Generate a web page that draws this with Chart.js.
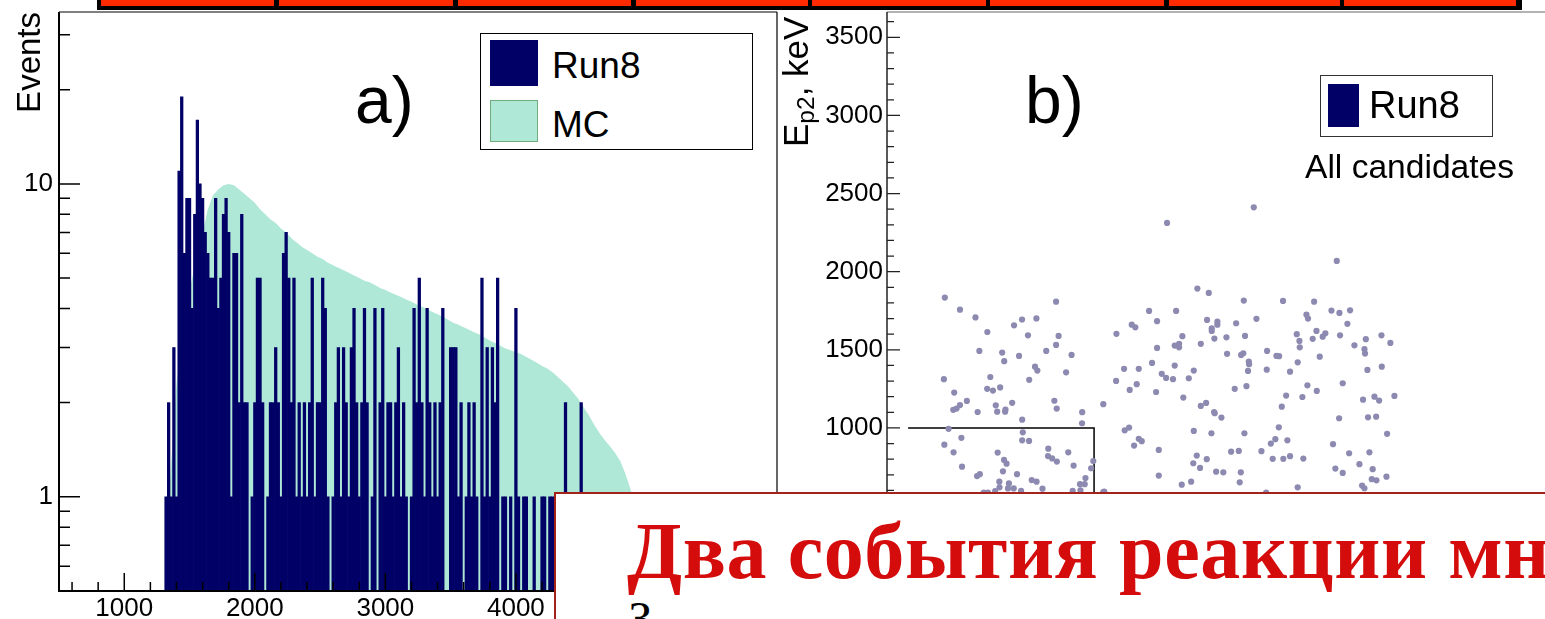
<!DOCTYPE html>
<html>
<head>
<meta charset="utf-8">
<script src="https://cdn.jsdelivr.net/npm/chart.js@4.4.1/dist/chart.umd.min.js"></script>
<style>
html,body{margin:0;padding:0;background:#fff;overflow:hidden;}
body{width:1545px;height:619px;position:relative;}
canvas{position:absolute;top:0;}
#cA{left:0;}
#cB{left:778px;}
.t{position:absolute;white-space:nowrap;line-height:1;font-family:"Liberation Sans",Arial,sans-serif;color:#000;}
.bx{position:absolute;box-sizing:border-box;}
</style>
</head>
<body>
<canvas id="cA" width="778" height="619"></canvas>
<canvas id="cB" width="800" height="619"></canvas>

<!-- panel a legend and label -->
<div class="bx" style="left:480px;top:33px;width:273px;height:117px;border:1.5px solid #000;background:#fff;"></div>
<div class="bx" style="left:490px;top:40px;width:48px;height:46px;background:#000066;"></div>
<div class="t" style="left:552px;top:47px;font-size:37px;">Run8</div>
<div class="bx" style="left:490px;top:100px;width:48px;height:42px;background:#afe8d6;border:1.5px solid #6fae7c;"></div>
<div class="t" style="left:552px;top:106px;font-size:37px;">MC</div>
<div class="t" style="left:355px;top:67px;font-size:66px;">a)</div>

<!-- panel b labels -->
<div class="t" style="left:778px;top:147px;font-size:35px;transform-origin:0 0;transform:rotate(-90deg);">E<span style="font-size:0.7em;position:relative;top:0.25em;">p2</span>, keV</div>
<div class="t" style="left:1025px;top:67px;font-size:66px;">b)</div>
<div class="bx" style="left:1320px;top:75px;width:173px;height:62px;border:1.5px solid #333;background:#fff;"></div>
<div class="bx" style="left:1328px;top:84px;width:31px;height:43px;background:#000066;"></div>
<div class="t" style="left:1369px;top:86px;font-size:38px;">Run8</div>
<div class="t" style="left:1305px;top:150px;font-size:33.6px;">All candidates</div>

<!-- top bar -->
<div class="bx" style="left:97px;top:0;width:1425px;height:9.5px;background:#000;"></div>
<div class="bx" style="left:101px;top:0;width:173px;height:5.5px;background:#ff2a00;"></div>
<div class="bx" style="left:278.5px;top:0;width:174.5px;height:5.5px;background:#ff2a00;"></div>
<div class="bx" style="left:457.5px;top:0;width:173.5px;height:5.5px;background:#ff2a00;"></div>
<div class="bx" style="left:635.5px;top:0;width:172.5px;height:5.5px;background:#ff2a00;"></div>
<div class="bx" style="left:812px;top:0;width:174px;height:5.5px;background:#ff2a00;"></div>
<div class="bx" style="left:990px;top:0;width:174px;height:5.5px;background:#ff2a00;"></div>
<div class="bx" style="left:1168.5px;top:0;width:171.5px;height:5.5px;background:#ff2a00;"></div>
<div class="bx" style="left:1344px;top:0;width:172px;height:5.5px;background:#ff2a00;"></div>

<!-- overlapping slide text box -->
<div class="bx" style="left:554px;top:492px;width:1100px;height:200px;border:2.5px solid #a3221a;background:#fff;"></div>
<div class="t" style="left:627px;top:511px;font-family:'Liberation Serif',serif;font-weight:bold;font-size:80px;letter-spacing:0.6px;color:#d40c0c;">Два события реакции мн</div>
<div class="t" style="left:628px;top:595px;font-family:'Liberation Serif',serif;font-size:48px;">З</div>

<script>
// ---------------- data ----------------
// Panel a: Run8 histogram, 20 keV bins starting at 1310 keV
const run8BinStart = 1310;
const run8BinWidth = 20;
const run8Counts = [
  1,2,1,3,1,11,19,6,9,9,
  4,8,16,10,9,7,6,5,5,9,
  4,5,8,9,7,1,6,6,2,8,
  2,2,0,1,2,5,5,2,0,1,
  2,2,3,2,1,6,7,5,2,5,
  1,2,1,2,1,2,5,1,2,2,
  5,4,1,0,1,2,3,1,3,2,
  1,3,4,2,1,2,4,2,0,1,
  4,0,2,4,1,2,2,1,2,3,
  1,2,1,0,1,4,2,5,2,1,
  4,2,1,2,1,2,4,0,0,3,
  3,3,1,2,0,1,2,1,2,1,
  0,5,1,3,1,3,2,5,0,1,
  1,0,1,0,4,1,0,1,1,0,
  0,1,0,0,1,1,0,1,1,0,
  1,0,1,2,0,1,0,1,0,2,0
];
// Panel a: MC expectation, 40 keV bins starting at 1300 keV
const mcBinStart = 1300;
const mcBinWidth = 40;
const mcValues = [
  0.7,1.3,2.3,3.2,4.1,5.0,5.9,7.0,8.3,9.2,
  9.6,9.9,10.0,9.9,9.6,9.3,9.0,8.7,8.3,8.0,
  7.7,7.5,7.2,7.0,6.7,6.5,6.3,6.15,6.0,5.85,
  5.75,5.6,5.5,5.4,5.3,5.2,5.1,5.0,4.9,4.85,
  4.75,4.65,4.58,4.5,4.42,4.35,4.27,4.2,4.12,4.05,
  3.98,3.9,3.83,3.76,3.68,3.6,3.55,3.48,3.42,3.36,
  3.3,3.23,3.16,3.1,3.04,2.98,2.94,2.9,2.86,2.8,
  2.74,2.68,2.62,2.57,2.5,2.42,2.33,2.25,2.15,2.05,
  1.93,1.82,1.7,1.6,1.52,1.45,1.38,1.3,1.18,1.05,
  0.9,0.75,0.6,0.45
];
const xTickLabelsA = [1000, 2000, 3000, 4000, 5000];
const yTickLabelsA = [1, 10];

// Panel b: Run8 candidates, E_p1 vs E_p2 (keV)
const ep1Run8 = [
  2347,1792,2878,1986,2059,2283,2534,2733,1677,1850,2844,2895,2963,2684,2694,2364,1728,2048,2114,2114,
  2234,2946,1566,1589,2078,2078,2748,2805,2788,2622,1468,1890,2172,2291,2899,3164,2095,2639,2724,3064,
  3221,2008,1841,1869,1869,1728,2641,2991,3055,3059,2432,2176,2266,2280,2492,2509,2769,2315,2317,2628,
  1696,1841,3166,1517,1611,1963,2310,2430,2579,3074,1758,1786,1830,1931,1466,1598,1553,1722,2225,2300,
  2690,2916,2750,2554,1896,2658,3046,3119,3149,3247,1384,2008,2042,2526,2093,2097,2140,2893,3078,3130,
  2507,1521,1549,1963,2076,2287,3200,1611,1630,2485,2456,2562,1581,2854,1739,2202,2251,2396,2957,3087,
  1982,2046,2468,2536,2579,2664,1960,2003,3023,2869,3108,2916,2106,2152,2264,1739,3196,3102,3132,2257,
  1946,1886,3040,3055,2628,1384,2426,370,467,566,1082,864,956,813,642,902,1098,1082,591,737,
  750,845,1019,1181,947,962,1146,364,661,910,430,641,678,724,511,467,424,445,580,696,
  705,758,756,801,1071,1086,1249,1248,865,394,869,476,865,909,367,426,708,1032,1160,749,
  765,1030,1057,1087,480,1194,1320,1306,742,832,576,594,926,957,1270,719,780,1235,1265,720,
  774,811,995,692,646,619,858,1188,1238,1390
];
const ep2Run8 = [
  2412,2312,2069,1892,1864,1815,1813,1808,1749,1749,1751,1736,1753,1725,1700,1698,1683,1691,1680,1661,
  1670,1666,1661,1644,1638,1621,1621,1606,1584,1600,1602,1587,1580,1589,1593,1593,1572,1557,1570,1568,
  1544,1538,1527,1538,1516,1512,1516,1529,1504,1476,1493,1474,1467,1478,1461,1459,1456,1424,1408,1420,
  1416,1399,1392,1378,1378,1367,1365,1373,1360,1371,1346,1320,1312,1318,1301,1280,1243,1230,1250,1267,
  1273,1286,1237,1207,1194,1198,1181,1200,1175,1205,1152,1141,1160,1136,1102,1094,1066,1062,1068,1072,
  1004,985,1002,981,966,966,962,930,915,928,900,921,887,896,859,848,853,851,838,844,
  823,800,802,802,819,804,774,744,768,740,736,712,720,716,716,695,688,672,665,652,
  656,637,631,614,620,590,586,1834,1757,1707,1808,1694,1701,1657,1614,1593,1589,1531,1493,1482,
  1427,1461,1493,1467,1392,1367,1356,1312,1326,1308,1226,1250,1239,1259,1173,1146,1116,1124,1102,1145,
  1104,1118,1104,1161,1174,1124,1101,1030,1053,994,972,937,921,917,893,844,842,867,844,795,
  771,820,805,785,752,759,788,742,722,704,692,704,666,656,679,656,645,640,640,620,
  613,613,611,596,586,586,597,597,601,592
];
const xTickLabelsB = [0, 1000, 2000, 3000, 4000];
const yTickLabelsB = [1000, 1500, 2000, 2500, 3000, 3500];
// selection box drawn on panel b
const boxEp1 = [135, 1325, 1325];
const boxEp2 = [1000, 1000, 0];

// ---------------- helpers ----------------
Chart.defaults.font.family = "'Liberation Sans', Arial, sans-serif";
Chart.defaults.color = '#000';

function range(a, b, s) { const r = []; for (let v = a; v <= b + 1e-9; v += s) r.push(+v.toFixed(6)); return r; }
function noPadY(s, w) { s.width = w; s.paddingTop = 0; s.paddingBottom = 0; }
function noPadX(s, h) { s.height = h; s.paddingLeft = 0; s.paddingRight = 0; }

// ROOT-like inward ticks and frame
const rootAxes = {
  id: 'rootAxes',
  afterDatasetsDraw(chart, args, o) {
    const {ctx, chartArea: a} = chart;
    const xs = chart.scales.x, ys = chart.scales.y;
    ctx.save();
    ctx.strokeStyle = o.tickColor;
    ctx.lineWidth = o.tickWidth;
    ctx.beginPath();
    (o.yTicks || []).forEach(t => { const p = ys.getPixelForValue(t.v); ctx.moveTo(a.left, p); ctx.lineTo(a.left + t.len, p); });
    (o.xTicks || []).forEach(t => { const p = xs.getPixelForValue(t.v); ctx.moveTo(p, a.bottom); ctx.lineTo(p, a.bottom - t.len); });
    ctx.stroke();
    (o.frame || []).forEach(f => {
      ctx.beginPath();
      ctx.strokeStyle = f.color; ctx.lineWidth = f.width;
      if (f.side === 'left') { ctx.moveTo(a.left, a.top); ctx.lineTo(a.left, a.bottom); }
      if (f.side === 'right') { ctx.moveTo(a.right, a.top); ctx.lineTo(a.right, a.bottom); }
      if (f.side === 'top') { ctx.moveTo(a.left, a.top); ctx.lineTo(a.right, a.top); }
      if (f.side === 'bottom') { ctx.moveTo(a.left - 1, a.bottom); ctx.lineTo(a.right, a.bottom); }
      ctx.stroke();
    });
    ctx.restore();
  }
};

// ---------------- panel a ----------------
const mcPoints = mcValues.map((v, i) => ({x: mcBinStart + (i + 0.5) * mcBinWidth, y: v}));
const run8Points = run8Counts.map((c, i) => ({x: run8BinStart + (i + 0.5) * run8BinWidth, y: c > 0 ? c : null}));

const yMinorA = [0.6,0.7,0.8,0.9,2,3,4,5,6,7,8,9,20,30];
const xMinorA = range(600, 5800, 200).filter(v => v % 1000 !== 0);

new Chart(document.getElementById('cA'), {
  type: 'bar',
  data: {
    datasets: [
      {type: 'line', label: 'MC', data: mcPoints, fill: 'start', tension: 0,
       backgroundColor: '#afe8d6', borderWidth: 0, borderColor: 'rgba(0,0,0,0)', pointRadius: 0, order: 2},
      {type: 'bar', label: 'Run8', data: run8Points, backgroundColor: '#000066', borderWidth: 0,
       barPercentage: 1, categoryPercentage: 1, order: 1}
    ]
  },
  options: {
    responsive: false, animation: false, events: [], devicePixelRatio: 1,
    layout: {padding: {top: 12, right: 1, left: 0, bottom: 0}},
    plugins: {
      legend: {display: false}, tooltip: {enabled: false},
      rootAxes: {
        tickColor: '#000', tickWidth: 1.5,
        yTicks: yTickLabelsA.map(v => ({v, len: 21})).concat(yMinorA.map(v => ({v, len: 11}))),
        xTicks: xTickLabelsA.map(v => ({v, len: 18})).concat(xMinorA.map(v => ({v, len: 9}))),
        frame: [
          {side: 'top', width: 1, color: '#000'},
          {side: 'right', width: 1.2, color: '#000'},
          {side: 'left', width: 2, color: '#000'},
          {side: 'bottom', width: 2, color: '#000'}
        ]
      }
    },
    scales: {
      x: {
        type: 'linear', min: 500, max: 6000, offset: false,
        afterFit(s) { noPadX(s, 28); },
        afterBuildTicks(s) { s.ticks = xTickLabelsA.map(v => ({value: v})); },
        grid: {display: false, drawTicks: false, offset: false},
        border: {display: false},
        ticks: {font: {size: 26}, color: '#000', padding: 2, maxRotation: 0, autoSkip: false, callback: v => String(v)}
      },
      y: {
        type: 'logarithmic', min: 0.5, max: 35.44,
        afterFit(s) { noPadY(s, 59); },
        afterBuildTicks(s) { s.ticks = yTickLabelsA.map(v => ({value: v})); },
        grid: {display: false, drawTicks: false},
        border: {display: false},
        ticks: {font: {size: 26}, color: '#000', padding: 6, autoSkip: false, callback: v => String(v)},
        title: {display: true, text: 'Events', align: 'end', font: {size: 33}, color: '#000', padding: {top: 11, bottom: 0}}
      }
    }
  },
  plugins: [rootAxes]
});

// ---------------- panel b ----------------
const yMinorB = range(600, 3600, 100).filter(v => v % 500 !== 0);
const scatterPoints = ep1Run8.map((x, i) => ({x, y: ep2Run8[i]}));
const boxPoints = boxEp1.map((x, i) => ({x, y: boxEp2[i]}));

new Chart(document.getElementById('cB'), {
  type: 'scatter',
  data: {
    datasets: [
      {type: 'line', label: 'box', data: boxPoints, borderColor: '#000', borderWidth: 1.5, pointRadius: 0, fill: false, order: 2},
      {type: 'scatter', label: 'Run8', data: scatterPoints, backgroundColor: '#8d8ab1', borderWidth: 0, pointRadius: 3.1, order: 1}
    ]
  },
  options: {
    responsive: false, animation: false, events: [], devicePixelRatio: 1,
    layout: {padding: {top: 12, right: 19, left: 0, bottom: 0}},
    plugins: {
      legend: {display: false}, tooltip: {enabled: false},
      rootAxes: {
        tickColor: '#222', tickWidth: 1.2,
        yTicks: yTickLabelsB.map(v => ({v, len: 13})).concat(yMinorB.map(v => ({v, len: 7}))),
        xTicks: [],
        frame: [
          {side: 'top', width: 1, color: '#666'},
          {side: 'left', width: 1.5, color: '#222'}
        ]
      }
    },
    scales: {
      x: {
        type: 'linear', min: 0, max: 4300,
        afterFit(s) { noPadX(s, 112.94); },
        afterBuildTicks(s) { s.ticks = xTickLabelsB.map(v => ({value: v})); },
        grid: {display: false, drawTicks: false},
        border: {display: false},
        ticks: {font: {size: 26}, color: '#000', maxRotation: 0, autoSkip: false}
      },
      y: {
        type: 'linear', min: 500, max: 3662,
        afterFit(s) { noPadY(s, 109); },
        afterBuildTicks(s) { s.ticks = yTickLabelsB.map(v => ({value: v})); },
        grid: {display: false, drawTicks: false},
        border: {display: false},
        ticks: {font: {size: 26}, color: '#000', padding: 4, autoSkip: false, callback: v => String(v)}
      }
    }
  },
  plugins: [rootAxes]
});
</script>
</body>
</html>
